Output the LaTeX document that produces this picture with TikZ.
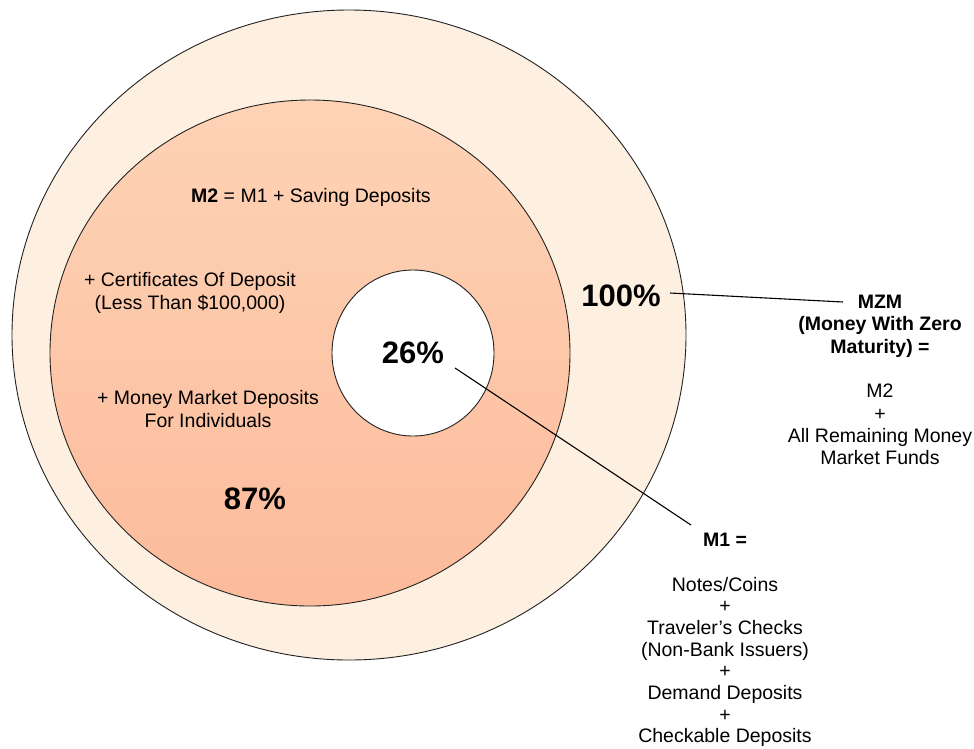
\documentclass[tikz,border=0pt]{standalone}
\usepackage{fontspec}
\setmainfont{Liberation Sans}
\definecolor{outerfill}{HTML}{FEF0E1}
\definecolor{innertop}{HTML}{FED3B6}
\definecolor{innerbot}{HTML}{FCBB9B}
\definecolor{edge}{HTML}{222222}
\tikzset{
  txt/.style={align=center, inner sep=0pt, font=\fontsize{19.5}{22.3}\selectfont},
  bigpct/.style={inner sep=0pt, font=\fontsize{31}{34}\selectfont\bfseries},
  leader/.style={draw=black, line width=1.1pt},
  ring/.style={draw=edge, line width=0.9pt}
}
\begin{document}
\begin{tikzpicture}[x=1pt,y=-1pt]
\useasboundingbox (0,0) rectangle (974,748);
\fill[white] (0,0) rectangle (974,748);
\filldraw[ring, fill=outerfill] (349,335) ellipse [x radius=337pt, y radius=325pt];
\shade[top color=innertop, bottom color=innerbot] (310,353) ellipse [x radius=260pt, y radius=253pt];
\draw[ring] (310,353) ellipse [x radius=260pt, y radius=253pt];
\filldraw[ring, fill=white] (413,353) ellipse [x radius=81pt, y radius=83pt];
\node[txt] (m2) at (311,197) {\textbf{M2} = M1 + Saving Deposits};
\node[txt] (cd) at (190,293) {+ Certificates Of Deposit\\(Less Than \$100,000)};
\node[txt] (mmd) at (208,409) {+ Money Market Deposits\\For Individuals};
\node[bigpct] (p87) at (255,499) {87\%};
\node[bigpct] (p26) at (413,353) {26\%};
\node[bigpct] (p100) at (621,296) {100\%};
\node[txt] (mzm) at (880,380) {\textbf{MZM}\\\textbf{(Money With Zero}\\\textbf{Maturity) =}\\[22.3pt]M2\\+\\All Remaining Money\\Market Funds};
\node[txt, font=\fontsize{19.5}{21.6}\selectfont] (m1) at (725,640) {\textbf{M1 =}\\[23pt]Notes/Coins\\+\\Traveler’s Checks\\(Non-Bank Issuers)\\+\\Demand Deposits\\+\\Checkable Deposits};
\coordinate (mzmend) at (843,302);
\coordinate (m1end) at (691,525);
\coordinate (p100start) at (670,293);
\coordinate (p26start) at (455,368);
\draw[leader] (p100start) -- (mzmend);
\draw[leader] (p26start) -- (m1end);
\end{tikzpicture}
\end{document}
